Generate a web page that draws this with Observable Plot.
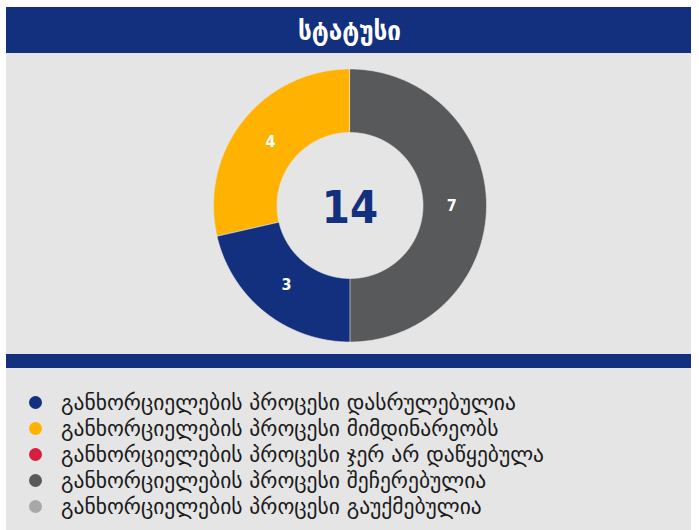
<!DOCTYPE html>
<html>
<head>
<meta charset="utf-8">
<script src="https://cdn.jsdelivr.net/npm/d3@7"></script>
<script src="https://cdn.jsdelivr.net/npm/@observablehq/plot@0.6"></script>
<style>
  html, body { margin: 0; padding: 0; background: #ffffff; }
  #wrap { position: absolute; left: 6px; top: 7px; width: 685px; }
  #title { height: 46px; background: #13307f; color: #fff; display: flex; align-items: center; justify-content: center;
           font-family: "DejaVu Sans Condensed", "DejaVu Sans", sans-serif; font-weight: bold; font-size: 27px; padding-left: 2px; box-sizing: border-box; }
  #chart { background: #e5e5e5; height: 301px; }
  #chart svg { display: block; background: #e5e5e5; }
  #bar { height: 14px; background: #13307f; }
  #legend { background: #e5e5e5; height: 170px; padding-top: 21px; box-sizing: border-box; }
  .row { display: flex; align-items: center; height: 26px; padding-left: 23px;
         font-family: "DejaVu Sans", sans-serif; font-size: 21.5px; color: #1a1a1a; }
  .dot { width: 13px; height: 13px; border-radius: 50%; margin-right: 19px; flex: none; }
</style>
</head>
<body>
<div id="wrap">
  <div id="title"></div>
  <div id="chart"></div>
  <div id="bar"></div>
  <div id="legend"></div>
</div>
<script>
const titleText = "სტატუსი";
const categories = [
  "განხორციელების პროცესი დასრულებულია",
  "განხორციელების პროცესი მიმდინარეობს",
  "განხორციელების პროცესი ჯერ არ დაწყებულა",
  "განხორციელების პროცესი შეჩერებულია",
  "განხორციელების პროცესი გაუქმებულია"
];
const values = [3, 4, 0, 7, 0];
const colors = ["#13307f", "#ffb300", "#d71e40", "#58595b", "#a8a8a8"];

document.getElementById("title").textContent = titleText;

const total = d3.sum(values);
const innerRatio = 73 / 136.5;
const pie = d3.pie().sort(null).startAngle(Math.PI).endAngle(3 * Math.PI);
const arcs = pie(values).map((a, i) => ({...a, cat: categories[i]}));

// polygon outline of each slice in unit coordinates
const poly = [];
for (const a of arcs) {
  if (a.value <= 0) continue;
  const n = Math.max(2, Math.ceil((a.endAngle - a.startAngle) / (Math.PI / 360)));
  for (let k = 0; k <= n; k++) {
    const t = a.startAngle + (a.endAngle - a.startAngle) * k / n;
    poly.push({cat: a.cat, x: Math.sin(t), y: Math.cos(t)});
  }
  for (let k = n; k >= 0; k--) {
    const t = a.startAngle + (a.endAngle - a.startAngle) * k / n;
    poly.push({cat: a.cat, x: innerRatio * Math.sin(t), y: innerRatio * Math.cos(t)});
  }
}
const labelR = 0.745;
const labels = arcs.filter(a => a.value > 0).map(a => {
  const m = (a.startAngle + a.endAngle) / 2;
  return {x: labelR * Math.sin(m), y: labelR * Math.cos(m), v: a.value};
});

const cx = 343.5, cy = 152, R = 136.5;
const plot = Plot.plot({
  width: 685,
  height: 301,
  style: {background: "#e5e5e5"},
  x: {domain: [-1, 1], range: [cx - R, cx + R], axis: null},
  y: {domain: [-1, 1], range: [cy + R, cy - R], axis: null},
  color: {domain: categories, range: colors},
  marks: [
    Plot.line(poly, {x: "x", y: "y", z: "cat", fill: "cat", stroke: "#e5e5e5", strokeWidth: 0.6, curve: "linear-closed"}),
    Plot.text(labels, {x: "x", y: "y", text: "v", fill: "#ffffff", fontSize: 16, fontWeight: "bold",
      fontFamily: "'DejaVu Sans Condensed', 'DejaVu Sans', sans-serif"}),
    Plot.text([total], {x: () => 0, y: () => 0, text: d => String(d), fill: "#13307f", fontSize: 45, fontWeight: 900,
      fontFamily: "'DejaVu Sans Condensed', Roboto, sans-serif", dy: 3, letterSpacing: -1})
  ]
});
document.getElementById("chart").appendChild(plot);

const legend = document.getElementById("legend");
categories.forEach((c, i) => {
  const row = document.createElement("div");
  row.className = "row";
  const dot = document.createElement("span");
  dot.className = "dot";
  dot.style.background = colors[i];
  const txt = document.createElement("span");
  txt.textContent = c;
  row.appendChild(dot);
  row.appendChild(txt);
  legend.appendChild(row);
});
</script>
</body>
</html>
